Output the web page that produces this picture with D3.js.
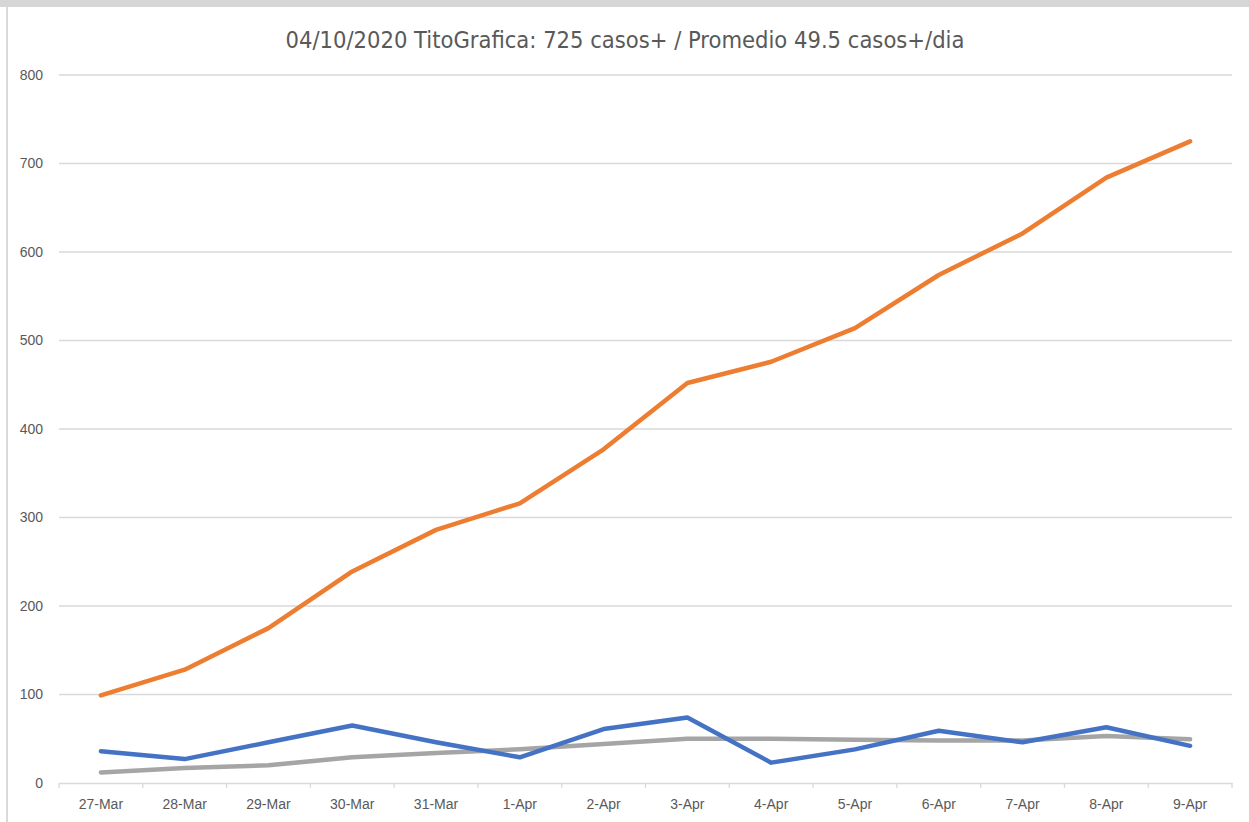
<!DOCTYPE html>
<html>
<head>
<meta charset="utf-8">
<script src="https://cdn.jsdelivr.net/npm/d3@7"></script>
<style>
  body { margin: 0; background: #fff; }
  svg { display: block; font-family: "Liberation Sans Narrow", "DejaVu Sans Condensed", sans-serif; }
</style>
</head>
<body>
<div id="chart"></div>
<script>
// chart data
var dates = ["27-Mar", "28-Mar", "29-Mar", "30-Mar", "31-Mar", "1-Apr", "2-Apr",
             "3-Apr", "4-Apr", "5-Apr", "6-Apr", "7-Apr", "8-Apr", "9-Apr"];
var acumulado = [99, 128, 175, 239, 286, 316, 377, 452, 476, 514, 574, 621, 684, 725];
var diarios = [36, 27, 46, 65, 46, 29, 61, 74, 23, 38, 59, 46, 63, 42];
var promedio = [12, 17, 20, 29, 34, 38, 44, 50, 50, 49, 48, 48, 53, 49.5];
var yTicks = [0, 100, 200, 300, 400, 500, 600, 700, 800];
var title = "04/10/2020 TitoGrafica: 725 casos+ / Promedio 49.5 casos+/dia";

var W = 1249, H = 822;
var margin = {top: 75, right: 17, bottom: 39, left: 59};
var width = W - margin.left - margin.right,
    height = H - margin.top - margin.bottom;

var svg = d3.select("#chart").append("svg")
  .attr("width", W)
  .attr("height", H);

// frame pieces of the screenshot
svg.append("rect").attr("x", 0).attr("y", 0).attr("width", W).attr("height", 7).attr("fill", "#d6d6d6");
svg.append("rect").attr("x", 6).attr("y", 7).attr("width", 2).attr("height", H - 7).attr("fill", "#d9d9d9");

svg.append("text")
  .attr("x", 625)
  .attr("y", 48)
  .attr("text-anchor", "middle")
  .attr("fill", "#595959")
  .style("font-size", "23.5px")
  .text(title);

var g = svg.append("g")
  .attr("transform", "translate(" + margin.left + "," + margin.top + ")");

var x = d3.scaleBand().domain(dates).range([0, width]);
var y = d3.scaleLinear().domain([0, 800]).range([height, 0]);

// gridlines
g.append("g")
  .selectAll("line")
  .data(yTicks.filter(function(d) { return d > 0; }))
  .enter().append("line")
  .attr("x1", 0).attr("x2", width)
  .attr("y1", function(d) { return y(d); })
  .attr("y2", function(d) { return y(d); })
  .attr("stroke", "#d9d9d9")
  .attr("stroke-width", 1.3);

// y axis labels
var yAxis = g.append("g")
  .call(d3.axisLeft(y).tickValues(yTicks).tickSize(0).tickPadding(16));
yAxis.select(".domain").remove();
yAxis.selectAll("text").attr("fill", "#595959").style("font-size", "14px");

// x axis
var xAxis = g.append("g")
  .attr("transform", "translate(0," + height + ")")
  .call(d3.axisBottom(x).tickSize(0).tickPadding(16));
xAxis.select(".domain").attr("stroke", "#d9d9d9").attr("stroke-width", 1.3);
xAxis.selectAll("text").attr("fill", "#595959").style("font-size", "14px");

// tick marks at category boundaries
g.append("g")
  .selectAll("line")
  .data(d3.range(dates.length + 1))
  .enter().append("line")
  .attr("x1", function(i) { return i * x.step(); })
  .attr("x2", function(i) { return i * x.step(); })
  .attr("y1", height).attr("y2", height + 5)
  .attr("stroke", "#d9d9d9")
  .attr("stroke-width", 1.3);

var line = d3.line()
  .x(function(d, i) { return x(dates[i]) + x.bandwidth() / 2; })
  .y(function(d) { return y(d); });

var series = [
  {values: promedio, color: "#a5a5a5"},
  {values: diarios, color: "#4472c4"},
  {values: acumulado, color: "#ed7d31"}
];

g.selectAll(".serie")
  .data(series)
  .enter().append("path")
  .attr("class", "serie")
  .attr("d", function(s) { return line(s.values); })
  .attr("fill", "none")
  .attr("stroke", function(s) { return s.color; })
  .attr("stroke-width", 4.5)
  .attr("stroke-linejoin", "round")
  .attr("stroke-linecap", "round");
</script>
</body>
</html>
